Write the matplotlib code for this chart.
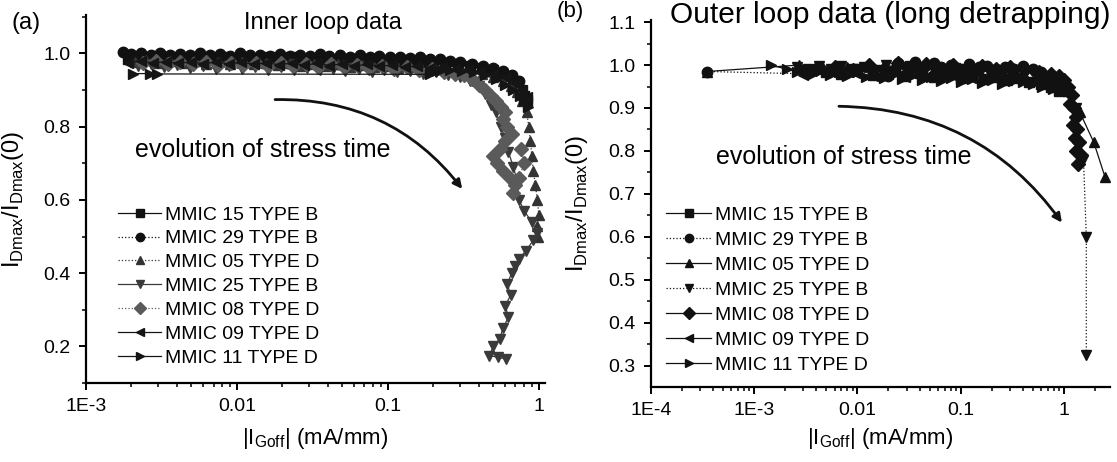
import matplotlib
matplotlib.use("Agg")
import matplotlib.pyplot as plt

plt.rcParams['font.family'] = ['Liberation Sans', 'DejaVu Sans']
plt.rcParams['mathtext.fontset'] = 'custom'
plt.rcParams['mathtext.rm'] = 'Liberation Sans'

labels = ["MMIC 15 TYPE B", "MMIC 29 TYPE B", "MMIC 05 TYPE D", "MMIC 25 TYPE B",
          "MMIC 08 TYPE D", "MMIC 09 TYPE D", "MMIC 11 TYPE D"]
markers = ['s', 'o', '^', 'v', 'D', '<', '>']

# ---------------- panel (a): inner loop data ----------------
L15_x = [0.0019,0.0022,0.0026,0.0031,0.0036,0.0043,0.0051,0.006,0.0071,0.0084,0.0099,0.0117,0.0138,0.0163,0.0193,0.0228,0.027,0.032,0.038,0.045,0.053,0.063,0.074,0.088,0.104,0.123,0.145,0.172,0.2,0.24,0.29,0.35,0.42,0.5,0.57,0.63,0.68,0.72,0.76,0.8,0.83]
L15_y = [0.984,0.99,0.986,0.992,0.985,0.989,0.983,0.99,0.986,0.991,0.984,0.988,0.982,0.989,0.985,0.99,0.983,0.987,0.98,0.986,0.981,0.985,0.978,0.984,0.979,0.982,0.976,0.979,0.973,0.975,0.97,0.966,0.961,0.955,0.947,0.938,0.925,0.913,0.9,0.885,0.87]
L29_x = [0.00176,0.002,0.0023,0.0027,0.0031,0.0036,0.0042,0.0049,0.0057,0.0066,0.0077,0.009,0.0105,0.0122,0.0142,0.0165,0.0192,0.0224,0.026,0.0303,0.0353,0.041,0.048,0.056,0.065,0.076,0.088,0.103,0.12,0.14,0.163,0.19,0.22,0.26,0.3,0.36,0.43,0.5,0.58,0.66,0.74]
L29_y = [1.003,0.998,1.0,0.996,1.002,0.997,0.999,0.995,1.001,0.996,0.998,0.994,1.0,0.995,0.997,0.993,0.999,0.994,0.996,0.992,0.998,0.993,0.995,0.991,0.996,0.99,0.994,0.989,0.991,0.987,0.989,0.984,0.985,0.98,0.977,0.972,0.967,0.96,0.952,0.94,0.925]
L05_x = [0.0021,0.0025,0.003,0.0036,0.0043,0.0052,0.0062,0.0075,0.009,0.0108,0.013,0.0156,0.0187,0.0225,0.027,0.0324,0.039,0.0467,0.056,0.067,0.081,0.097,0.116,0.14,0.168,0.2,0.24,0.29,0.35,0.42,0.5,0.58,0.65,0.72,0.78,0.83,0.86,0.88,0.9,0.92,0.95,0.98,1.0,0.97,0.99]
L05_y = [0.978,0.982,0.975,0.98,0.974,0.979,0.972,0.977,0.971,0.976,0.97,0.975,0.968,0.973,0.967,0.972,0.966,0.97,0.964,0.968,0.962,0.966,0.96,0.963,0.958,0.96,0.955,0.952,0.948,0.943,0.935,0.925,0.91,0.895,0.87,0.84,0.8,0.76,0.72,0.68,0.64,0.6,0.56,0.53,0.5]
L25_x = [0.0022,0.0027,0.0033,0.004,0.0049,0.006,0.0073,0.0089,0.0108,0.0132,0.016,0.0195,0.0238,0.029,0.0353,0.043,0.052,0.064,0.078,0.095,0.115,0.14,0.17,0.21,0.25,0.3,0.35,0.4,0.44,0.48,0.52,0.56,0.6,0.63,0.68,0.72,0.74,0.8,0.9,0.98,0.92,0.82,0.74,0.7,0.66,0.62,0.65,0.6,0.63,0.58,0.55,0.5,0.47,0.54,0.61]
L25_y = [0.965,0.97,0.962,0.968,0.96,0.966,0.958,0.965,0.957,0.963,0.956,0.962,0.955,0.96,0.954,0.958,0.952,0.957,0.95,0.955,0.948,0.952,0.945,0.948,0.94,0.935,0.925,0.91,0.89,0.86,0.84,0.8,0.77,0.73,0.69,0.65,0.6,0.57,0.54,0.51,0.49,0.46,0.44,0.42,0.4,0.37,0.34,0.31,0.28,0.25,0.22,0.2,0.175,0.17,0.165]
L08_x = [0.0024,0.0029,0.0035,0.0042,0.0051,0.0062,0.0075,0.0091,0.011,0.0133,0.0161,0.0195,0.0236,0.0286,0.0346,0.042,0.051,0.062,0.075,0.091,0.11,0.133,0.161,0.195,0.236,0.28,0.32,0.36,0.4,0.44,0.48,0.52,0.56,0.6,0.58,0.62,0.66,0.6,0.55,0.5,0.53,0.58,0.64,0.7,0.68,0.74,0.8,0.76]
L08_y = [0.975,0.98,0.972,0.978,0.97,0.976,0.969,0.975,0.968,0.974,0.967,0.973,0.966,0.972,0.964,0.97,0.962,0.968,0.96,0.965,0.958,0.962,0.955,0.958,0.95,0.945,0.94,0.93,0.915,0.9,0.885,0.87,0.855,0.84,0.82,0.8,0.78,0.76,0.74,0.72,0.7,0.68,0.66,0.64,0.62,0.66,0.7,0.74]
L09_x = [0.0019,0.0023,0.0028,0.0034,0.0041,0.005,0.006,0.0073,0.0088,0.0107,0.013,0.0157,0.019,0.023,0.028,0.034,0.041,0.05,0.06,0.073,0.088,0.107,0.13,0.157,0.19,0.23,0.28,0.34,0.41,0.5,0.6,0.7,0.78,0.84]
L09_y = [0.975,0.979,0.974,0.978,0.973,0.977,0.972,0.977,0.971,0.976,0.97,0.975,0.969,0.974,0.968,0.973,0.967,0.972,0.966,0.97,0.965,0.968,0.963,0.966,0.96,0.962,0.958,0.955,0.95,0.945,0.935,0.92,0.9,0.88]
L11_x = [0.00205,0.00265,0.00295,0.19,0.22,0.26,0.31,0.37,0.44,0.52,0.6,0.68,0.75,0.8,0.85]
L11_y = [0.945,0.945,0.944,0.943,0.952,0.955,0.953,0.948,0.94,0.93,0.915,0.9,0.885,0.87,0.855]

# ---------------- panel (b): outer loop data ----------------
R15_x = [0.005,0.007,0.01,0.014,0.02,0.028,0.04,0.055,0.075,0.1,0.13,0.17,0.22,0.28,0.36,0.46,0.6,0.75,0.9]
R15_y = [0.985,0.98,0.99,0.978,0.985,0.975,0.982,0.972,0.98,0.97,0.976,0.968,0.972,0.965,0.97,0.96,0.955,0.95,0.94]
R29_x = [0.00035,0.02,0.025,0.03,0.036,0.045,0.055,0.065,0.08,0.1,0.12,0.15,0.18,0.22,0.27,0.33,0.4,0.5,0.6,0.7,0.8,0.9]
R29_y = [0.985,0.975,1.005,0.995,1.008,0.998,1.005,0.995,1.0,0.99,1.003,0.995,0.998,0.99,0.996,0.992,0.998,0.99,0.985,0.975,0.97,0.96]
R05_x = [0.00035,0.0027,0.0045,0.008,0.013,0.022,0.035,0.055,0.09,0.15,0.25,0.4,0.6,0.85,1.1,1.43,1.95,2.5]
R05_y = [0.985,1.0,0.998,0.995,0.997,0.993,0.996,0.99,0.994,0.988,0.99,0.985,0.98,0.97,0.94,0.89,0.82,0.74]
R25_x = [0.0026,0.0033,0.0042,0.0055,0.007,0.009,0.0115,0.015,0.019,0.025,0.032,0.041,0.053,0.068,0.088,0.11,0.145,0.19,0.24,0.31,0.4,0.52,0.67,0.85,1.05,1.3,1.55,1.65,1.65]
R25_y = [0.995,0.99,0.997,0.992,0.998,0.99,0.996,0.988,1.0,0.992,0.998,0.99,0.995,0.987,0.993,0.985,0.99,0.983,0.987,0.98,0.982,0.975,0.97,0.96,0.94,0.9,0.78,0.6,0.325]
R08_x = [0.004,0.006,0.009,0.013,0.018,0.025,0.034,0.046,0.062,0.085,0.115,0.16,0.22,0.3,0.42,0.58,0.75,0.9,1.0,1.1,1.2,1.15,1.25,1.3,1.22,1.35,1.28,1.4,1.32,1.45,1.38]
R08_y = [0.99,0.995,0.988,1.0,0.99,1.005,0.995,1.002,0.992,1.0,0.99,0.998,0.99,0.995,0.99,0.985,0.98,0.975,0.965,0.95,0.93,0.91,0.9,0.88,0.86,0.85,0.83,0.82,0.8,0.79,0.77]
R09_x = [0.003,0.0045,0.0065,0.0095,0.014,0.02,0.029,0.042,0.06,0.087,0.125,0.18,0.26,0.37,0.53,0.75,0.95]
R09_y = [0.978,0.983,0.976,0.982,0.975,0.98,0.973,0.978,0.972,0.977,0.97,0.975,0.968,0.972,0.965,0.96,0.95]
R11_x = [0.00145,0.0021,0.0026,0.0031,0.0037,0.0045,0.0054,0.0066,0.008,0.01,0.012,0.015,0.018,0.022,0.027,0.034,0.042,0.052,0.065,0.08,0.1,0.13,0.16,0.2,0.25,0.32,0.4,0.5,0.62,0.78]
R11_y = [1.0,0.99,0.985,0.99,0.98,0.988,0.978,0.985,0.975,0.983,0.973,0.98,0.97,0.978,0.968,0.975,0.965,0.972,0.962,0.97,0.96,0.968,0.958,0.965,0.955,0.962,0.96,0.955,0.95,0.945]

left_series = [(L15_x, L15_y), (L29_x, L29_y), (L05_x, L05_y), (L25_x, L25_y),
               (L08_x, L08_y), (L09_x, L09_y), (L11_x, L11_y)]
right_series = [(R15_x, R15_y), (R29_x, R29_y), (R05_x, R05_y), (R25_x, R25_y),
                (R08_x, R08_y), (R09_x, R09_y), (R11_x, R11_y)]

left_colors = ['#111111', '#111111', '#333333', '#3a3a3a', '#5a5a5a', '#151515', '#151515']
left_ls = ['-', ':', ':', '-', ':', '-', '-']
right_colors = ['#111111'] * 7
right_ls = ['-', ':', '-', ':', '-', '-', '-']

xt_left = [1e-3, 1e-2, 1e-1, 1]
xt_left_lab = ['1E-3', '0.01', '0.1', '1']
xt_right = [1e-4, 1e-3, 1e-2, 1e-1, 1]
xt_right_lab = ['1E-4', '1E-3', '0.01', '0.1', '1']

fig = plt.figure(figsize=(11.17, 4.62), dpi=100)
axL = fig.add_axes([86/1117, 1-383/462, 459/1117, 368/462])
axR = fig.add_axes([651/1117, 1-387/462, 459/1117, 367/462])

def style(ax):
    for s in ['top', 'right']:
        ax.spines[s].set_visible(False)
    for s in ['left', 'bottom']:
        ax.spines[s].set_linewidth(1.6)
    ax.set_xscale('log')
    ax.tick_params(which='major', direction='out', length=5, width=1.4, labelsize=14, pad=6)
    ax.tick_params(which='minor', direction='out', length=3, width=1.1)

for ax, series, cols, lss in [(axL, left_series, left_colors, left_ls),
                              (axR, right_series, right_colors, right_ls)]:
    style(ax)
    for (x, y), m, c, ls, lab in zip(series, markers, cols, lss, labels):
        ax.plot(x, y, marker=m, color=c, ls=ls, lw=0.9, ms=7.5, mec=c, mfc=c, label=lab)

axL.set_xlim(1e-3, 1.1)
axL.set_ylim(0.1, 1.105)
axL.set_xticks(xt_left, xt_left_lab)
axL.set_yticks([0.2, 0.4, 0.6, 0.8, 1.0], ['0.2', '0.4', '0.6', '0.8', '1.0'])
axL.set_yticks([0.1, 0.3, 0.5, 0.7, 0.9, 1.1], minor=True)

axR.set_xlim(1e-4, 2.8)
axR.set_ylim(0.25, 1.105)
axR.set_xticks(xt_right, xt_right_lab)
axR.set_yticks([0.3, 0.4, 0.5, 0.6, 0.7, 0.8, 0.9, 1.0, 1.1],
               ['0.3', '0.4', '0.5', '0.6', '0.7', '0.8', '0.9', '1.0', '1.1'])
axR.set_yticks([0.35, 0.45, 0.55, 0.65, 0.75, 0.85, 0.95, 1.05], minor=True)

ylab = r'I$_\mathregular{Dmax}$/I$_\mathregular{Dmax}$(0)'
xlab = r'|I$_\mathregular{Goff}$| (mA/mm)'
for ax, yx, xy in [(axL, -0.131, -0.117), (axR, -0.133, -0.106)]:
    ax.set_ylabel(ylab, fontsize=17)
    ax.set_xlabel(xlab, fontsize=16)
    ax.yaxis.set_label_coords(yx, 0.5)
    ax.xaxis.set_label_coords(0.5, xy)

legL = axL.legend(loc='upper left', bbox_to_anchor=(0.07, 0.481), frameon=False,
                  fontsize=14, handlelength=2.2, handletextpad=0.2, labelspacing=0.32,
                  borderpad=0, borderaxespad=0, markerscale=0.8)
legR = axR.legend(loc='upper left', bbox_to_anchor=(0.033, 0.493), frameon=False,
                  fontsize=14, handlelength=2.3, handletextpad=0.2, labelspacing=0.38,
                  borderpad=0, borderaxespad=0, markerscale=0.8)

# curved arrows and annotation text
axL.annotate('', xy=(0.311, 0.63), xytext=(0.0179, 0.874),
             arrowprops=dict(arrowstyle='-|>', connectionstyle='arc3,rad=-0.25',
                             lw=2, color='#111111', mutation_scale=13, shrinkA=0, shrinkB=0))
axL.text(0.0021, 0.737, 'evolution of stress time', fontsize=18, va='center', ha='left')
axR.annotate('', xy=(0.957, 0.633), xytext=(0.00662, 0.904),
             arrowprops=dict(arrowstyle='-|>', connectionstyle='arc3,rad=-0.25',
                             lw=2, color='#111111', mutation_scale=13, shrinkA=0, shrinkB=0))
axR.text(4.26e-4, 0.785, 'evolution of stress time', fontsize=18, va='center', ha='left')

fig.text(323/1117, 1-23/462, 'Inner loop data', fontsize=17, ha='center', va='center')
fig.text(890/1117, 1-15/462, 'Outer loop data (long detrapping)', fontsize=21.5, ha='center', va='center')
fig.text(26/1117, 1-23/462, '(a)', fontsize=17, ha='center', va='center')
fig.text(570/1117, 1-12/462, '(b)', fontsize=16, ha='center', va='center')

fig.savefig('out.png', dpi=100)
